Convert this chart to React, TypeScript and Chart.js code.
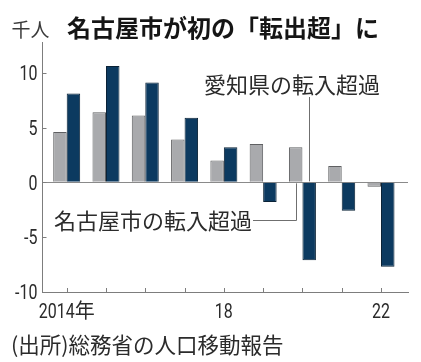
import React, { useEffect, useRef } from "react";
import { Chart, registerables } from "chart.js";

Chart.register(...registerables);

// ---- data ----
const years = [2014, 2015, 2016, 2017, 2018, 2019, 2020, 2021, 2022];
const nagoyaNet = [4.6, 6.4, 6.1, 3.9, 2.0, 3.5, 3.2, 1.5, -0.4];
const aichiNet = [8.1, 10.6, 9.1, 5.9, 3.2, -1.8, -7.1, -2.6, -7.7];
const xTickLabels = ["2014年", "", "", "", "18", "", "", "", "22"];
const yTicks = [-10, -5, 0, 5, 10];
const yTickLabels = ["-10", "-5", "0", "5", "10"];
const leaderYear = 2020;

const titleText = "名古屋市が初の「転出超」に";
const unitText = "千人";
const aichiLabel = "愛知県の転入超過";
const nagoyaLabel = "名古屋市の転入超過";
const sourceText = "(出所)総務省の人口移動報告";

// ---- styles ----
const W = 421;
const H = 362;
const CJK = '"Noto Sans CJK JP", "Noto Sans", sans-serif';
const NUM = 'Roboto, "Liberation Sans", sans-serif';
const NUM_SIZE = 20;
const NARROW = 0.8;
const GRAY_FILL = "#a9aaad";
const GRAY_EDGE = "#5f6062";
const BLUE_FILL = "#0c3a60";
const BLUE_EDGE = "#0a2236";
const AXIS = "#7d7d7d";
const TEXT = "#2b2b2b";

// draws "digits + optional CJK suffix" with condensed digits; align: 'center' | 'right'
function drawTickText(ctx: CanvasRenderingContext2D, text: string, x: number, baseline: number, align: "center" | "right") {
  const m = text.match(/^([-0-9.]*)(.*)$/) || ["", text, ""];
  const num = m[1];
  const rest = m[2];
  ctx.font = `${NUM_SIZE}px ${NUM}`;
  const numW = ctx.measureText(num).width * NARROW;
  ctx.font = `${NUM_SIZE}px ${CJK}`;
  const restW = rest ? ctx.measureText(rest).width : 0;
  const total = numW + restW;
  const start = align === "center" ? x - total / 2 : x - total;
  ctx.save();
  ctx.textAlign = "left";
  ctx.textBaseline = "alphabetic";
  ctx.translate(start, baseline);
  ctx.scale(NARROW, 1);
  ctx.font = `${NUM_SIZE}px ${NUM}`;
  ctx.fillText(num, 0, 0);
  ctx.restore();
  if (rest) {
    ctx.save();
    ctx.textAlign = "left";
    ctx.textBaseline = "alphabetic";
    ctx.font = `${NUM_SIZE}px ${CJK}`;
    ctx.fillText(rest, start + numW, baseline);
    ctx.restore();
  }
}

const overlayPlugin = {
  id: "overlay",
  afterDraw(chart: any) {
    const ctx = chart.ctx as CanvasRenderingContext2D;
    const xs = chart.scales.x;
    const ys = chart.scales.y;
    const area = chart.chartArea;
    ctx.save();

    // inward tick marks
    ctx.strokeStyle = AXIS;
    ctx.lineWidth = 1;
    ctx.beginPath();
    for (const yr of years) {
      const px = Math.round(xs.getPixelForValue(yr)) + 0.5;
      ctx.moveTo(px, area.bottom);
      ctx.lineTo(px, area.bottom - 4);
    }
    for (const v of yTicks) {
      const py = Math.round(ys.getPixelForValue(v)) + 0.5;
      ctx.moveTo(area.left, py);
      ctx.lineTo(area.left + 4, py);
    }
    ctx.stroke();

    // tick labels
    ctx.fillStyle = TEXT;
    years.forEach((yr, i) => {
      if (xTickLabels[i]) drawTickText(ctx, xTickLabels[i], xs.getPixelForValue(yr), area.bottom + 25.5, "center");
    });
    yTicks.forEach((v, i) => {
      drawTickText(ctx, yTickLabels[i], area.left - 5, ys.getPixelForValue(v) + 7.2, "right");
    });

    // leader lines
    const i = years.indexOf(leaderYear);
    const grayBar = chart.getDatasetMeta(0).data[i];
    const blueBar = chart.getDatasetMeta(1).data[i];
    const y0 = ys.getPixelForValue(0);
    ctx.strokeStyle = "#6f6f6f";
    ctx.beginPath();
    const bx = Math.round(blueBar.x) + 0.5;
    ctx.moveTo(bx, 97);
    ctx.lineTo(bx, y0 - 1);
    const gx = Math.round(grayBar.x) + 0.5;
    ctx.moveTo(253, 220.5);
    ctx.lineTo(gx, 220.5);
    ctx.lineTo(gx, y0 + 1);
    ctx.stroke();

    // texts
    ctx.textBaseline = "middle";
    ctx.textAlign = "left";
    ctx.fillStyle = "#151515";
    ctx.font = `bold 24px ${CJK}`;
    ctx.fillText(titleText, 67, 28);

    ctx.fillStyle = "#3a3a3a";
    ctx.font = `19px ${CJK}`;
    ctx.fillText(unitText, 11.5, 30);

    ctx.fillStyle = TEXT;
    ctx.font = `22px ${CJK}`;
    ctx.fillText(aichiLabel, 204, 85);
    ctx.fillText(nagoyaLabel, 54, 221);

    ctx.font = `21.5px ${CJK}`;
    ctx.fillText(sourceText, 11, 345);

    ctx.restore();
  },
};

export default function App() {
  const ref = useRef<HTMLCanvasElement | null>(null);

  useEffect(() => {
    if (!ref.current) return;
    const chart = new Chart(ref.current, {
      type: "bar",
      data: {
        datasets: [
          {
            label: "名古屋市の転入超過",
            data: years.map((x, i) => ({ x, y: nagoyaNet[i] })),
            backgroundColor: GRAY_FILL,
            borderColor: GRAY_EDGE,
            borderWidth: 1,
          },
          {
            label: "愛知県の転入超過",
            data: years.map((x, i) => ({ x, y: aichiNet[i] })),
            backgroundColor: BLUE_FILL,
            borderColor: BLUE_EDGE,
            borderWidth: 1,
          },
        ],
      },
      options: {
        responsive: false,
        animation: false,
        devicePixelRatio: 1,
        categoryPercentage: 0.687,
        barPercentage: 1,
        layout: { padding: { top: 42, right: 13, left: 0, bottom: 0 } },
        plugins: {
          legend: { display: false },
          title: { display: false },
          tooltip: { enabled: false },
        },
        scales: {
          x: {
            type: "linear",
            offset: false,
            min: 2013.384,
            max: 2022.687,
            afterFit: (s: any) => {
              s.height = 70;
            },
            afterBuildTicks: (s: any) => {
              s.ticks = years.map((v) => ({ value: v }));
            },
            grid: { display: false, drawTicks: false },
            border: { display: true, color: AXIS, width: 1 },
            ticks: { display: false },
          },
          y: {
            min: -10,
            max: 12.8,
            afterFit: (s: any) => {
              s.width = 42.5;
            },
            afterBuildTicks: (s: any) => {
              s.ticks = yTicks.map((v) => ({ value: v }));
            },
            grid: {
              drawTicks: false,
              color: (c: any) => (c.tick && c.tick.value === 0 ? "#8a8a8a" : "rgba(0,0,0,0)"),
              lineWidth: 1,
            },
            border: { display: true, color: AXIS, width: 1 },
            ticks: { display: false },
          },
        },
      },
      plugins: [overlayPlugin],
    } as any);
    return () => chart.destroy();
  }, []);

  return (
    <div style={{ position: "absolute", left: 0, top: 0, width: W, height: H, background: "#fff" }}>
      <canvas ref={ref} width={W} height={H} style={{ display: "block", width: W, height: H }} />
    </div>
  );
}
